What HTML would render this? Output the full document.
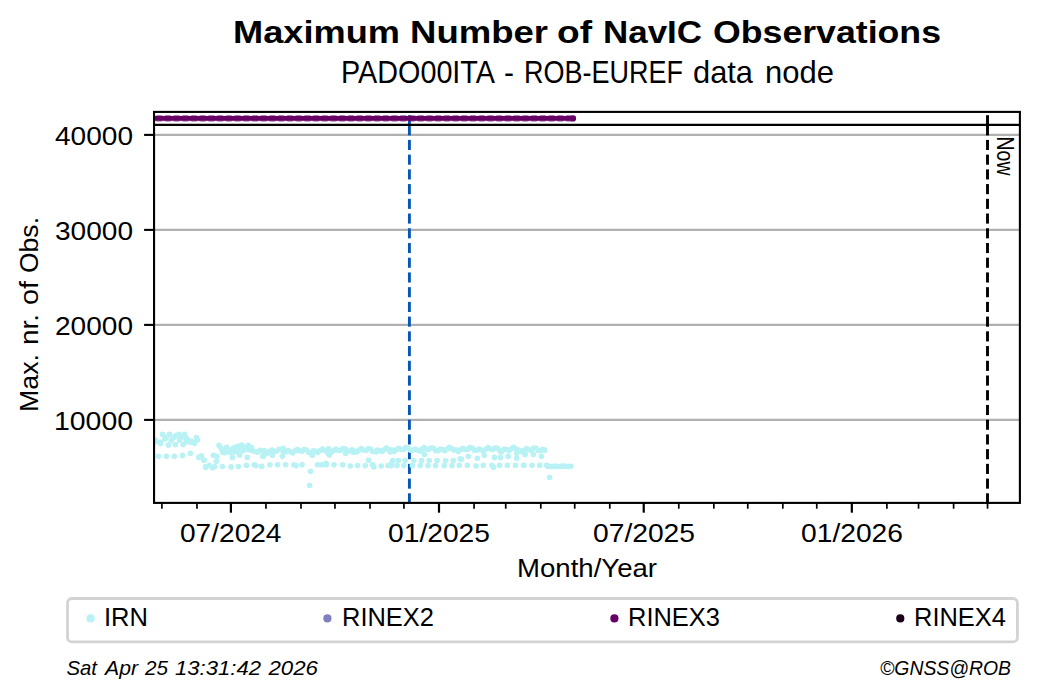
<!DOCTYPE html>
<html><head><meta charset="utf-8"><style>
html,body{margin:0;padding:0;background:#fff;width:1040px;height:699px;overflow:hidden}
svg{display:block;font-family:"Liberation Sans",sans-serif}
</style></head><body>
<svg width="1040" height="699" viewBox="0 0 1040 699">
<rect x="0" y="0" width="1040" height="699" fill="#fff"/>

<line x1="154.05" y1="419.90" x2="1019.9" y2="419.90" stroke="#b0b0b0" stroke-width="2.2"/>
<line x1="154.05" y1="324.90" x2="1019.9" y2="324.90" stroke="#b0b0b0" stroke-width="2.2"/>
<line x1="154.05" y1="229.90" x2="1019.9" y2="229.90" stroke="#b0b0b0" stroke-width="2.2"/>
<line x1="154.05" y1="134.90" x2="1019.9" y2="134.90" stroke="#b0b0b0" stroke-width="2.2"/>
<line x1="409.4" y1="115.2" x2="409.4" y2="135.4" stroke="#0657b3" stroke-width="2.9"/><line x1="409.4" y1="139.90" x2="409.4" y2="150.00" stroke="#0657b3" stroke-width="2.9"/><line x1="409.4" y1="154.62" x2="409.4" y2="164.72" stroke="#0657b3" stroke-width="2.9"/><line x1="409.4" y1="169.35" x2="409.4" y2="179.45" stroke="#0657b3" stroke-width="2.9"/><line x1="409.4" y1="184.07" x2="409.4" y2="194.17" stroke="#0657b3" stroke-width="2.9"/><line x1="409.4" y1="198.80" x2="409.4" y2="208.90" stroke="#0657b3" stroke-width="2.9"/><line x1="409.4" y1="213.52" x2="409.4" y2="223.62" stroke="#0657b3" stroke-width="2.9"/><line x1="409.4" y1="228.25" x2="409.4" y2="238.35" stroke="#0657b3" stroke-width="2.9"/><line x1="409.4" y1="242.97" x2="409.4" y2="253.07" stroke="#0657b3" stroke-width="2.9"/><line x1="409.4" y1="257.70" x2="409.4" y2="267.80" stroke="#0657b3" stroke-width="2.9"/><line x1="409.4" y1="272.43" x2="409.4" y2="282.53" stroke="#0657b3" stroke-width="2.9"/><line x1="409.4" y1="287.15" x2="409.4" y2="297.25" stroke="#0657b3" stroke-width="2.9"/><line x1="409.4" y1="301.88" x2="409.4" y2="311.98" stroke="#0657b3" stroke-width="2.9"/><line x1="409.4" y1="316.60" x2="409.4" y2="326.70" stroke="#0657b3" stroke-width="2.9"/><line x1="409.4" y1="331.33" x2="409.4" y2="341.43" stroke="#0657b3" stroke-width="2.9"/><line x1="409.4" y1="346.05" x2="409.4" y2="356.15" stroke="#0657b3" stroke-width="2.9"/><line x1="409.4" y1="360.78" x2="409.4" y2="370.88" stroke="#0657b3" stroke-width="2.9"/><line x1="409.4" y1="375.50" x2="409.4" y2="385.60" stroke="#0657b3" stroke-width="2.9"/><line x1="409.4" y1="390.23" x2="409.4" y2="400.33" stroke="#0657b3" stroke-width="2.9"/><line x1="409.4" y1="404.95" x2="409.4" y2="415.05" stroke="#0657b3" stroke-width="2.9"/><line x1="409.4" y1="419.68" x2="409.4" y2="429.78" stroke="#0657b3" stroke-width="2.9"/><line x1="409.4" y1="434.40" x2="409.4" y2="444.50" stroke="#0657b3" stroke-width="2.9"/><line x1="409.4" y1="449.13" x2="409.4" y2="459.23" stroke="#0657b3" stroke-width="2.9"/><line x1="409.4" y1="463.85" x2="409.4" y2="473.95" stroke="#0657b3" stroke-width="2.9"/><line x1="409.4" y1="478.58" x2="409.4" y2="488.68" stroke="#0657b3" stroke-width="2.9"/><line x1="409.4" y1="493.30" x2="409.4" y2="502.90" stroke="#0657b3" stroke-width="2.9"/>
<line x1="987.5" y1="115.2" x2="987.5" y2="135.4" stroke="#000000" stroke-width="2.9"/><line x1="987.5" y1="139.90" x2="987.5" y2="150.00" stroke="#000000" stroke-width="2.9"/><line x1="987.5" y1="154.62" x2="987.5" y2="164.72" stroke="#000000" stroke-width="2.9"/><line x1="987.5" y1="169.35" x2="987.5" y2="179.45" stroke="#000000" stroke-width="2.9"/><line x1="987.5" y1="184.07" x2="987.5" y2="194.17" stroke="#000000" stroke-width="2.9"/><line x1="987.5" y1="198.80" x2="987.5" y2="208.90" stroke="#000000" stroke-width="2.9"/><line x1="987.5" y1="213.52" x2="987.5" y2="223.62" stroke="#000000" stroke-width="2.9"/><line x1="987.5" y1="228.25" x2="987.5" y2="238.35" stroke="#000000" stroke-width="2.9"/><line x1="987.5" y1="242.97" x2="987.5" y2="253.07" stroke="#000000" stroke-width="2.9"/><line x1="987.5" y1="257.70" x2="987.5" y2="267.80" stroke="#000000" stroke-width="2.9"/><line x1="987.5" y1="272.43" x2="987.5" y2="282.53" stroke="#000000" stroke-width="2.9"/><line x1="987.5" y1="287.15" x2="987.5" y2="297.25" stroke="#000000" stroke-width="2.9"/><line x1="987.5" y1="301.88" x2="987.5" y2="311.98" stroke="#000000" stroke-width="2.9"/><line x1="987.5" y1="316.60" x2="987.5" y2="326.70" stroke="#000000" stroke-width="2.9"/><line x1="987.5" y1="331.33" x2="987.5" y2="341.43" stroke="#000000" stroke-width="2.9"/><line x1="987.5" y1="346.05" x2="987.5" y2="356.15" stroke="#000000" stroke-width="2.9"/><line x1="987.5" y1="360.78" x2="987.5" y2="370.88" stroke="#000000" stroke-width="2.9"/><line x1="987.5" y1="375.50" x2="987.5" y2="385.60" stroke="#000000" stroke-width="2.9"/><line x1="987.5" y1="390.23" x2="987.5" y2="400.33" stroke="#000000" stroke-width="2.9"/><line x1="987.5" y1="404.95" x2="987.5" y2="415.05" stroke="#000000" stroke-width="2.9"/><line x1="987.5" y1="419.68" x2="987.5" y2="429.78" stroke="#000000" stroke-width="2.9"/><line x1="987.5" y1="434.40" x2="987.5" y2="444.50" stroke="#000000" stroke-width="2.9"/><line x1="987.5" y1="449.13" x2="987.5" y2="459.23" stroke="#000000" stroke-width="2.9"/><line x1="987.5" y1="463.85" x2="987.5" y2="473.95" stroke="#000000" stroke-width="2.9"/><line x1="987.5" y1="478.58" x2="987.5" y2="488.68" stroke="#000000" stroke-width="2.9"/><line x1="987.5" y1="493.30" x2="987.5" y2="502.90" stroke="#000000" stroke-width="2.9"/>
<clipPath id="ax"><rect x="155.05" y="112.9" width="864" height="389"/></clipPath><g clip-path="url(#ax)">
<circle cx="158.5" cy="456.3" r="2.8" fill="#b8f2f4"/>
<circle cx="166.4" cy="456.3" r="2.8" fill="#b8f2f4"/>
<circle cx="174.3" cy="456.3" r="2.8" fill="#b8f2f4"/>
<circle cx="182.5" cy="455.4" r="2.8" fill="#b8f2f4"/>
<circle cx="190.4" cy="453.3" r="2.8" fill="#b8f2f4"/>
<circle cx="168.4" cy="445.1" r="2.8" fill="#b8f2f4"/>
<circle cx="175.4" cy="444.6" r="2.8" fill="#b8f2f4"/>
<circle cx="183.2" cy="444.6" r="2.8" fill="#b8f2f4"/>
<circle cx="160.5" cy="443.6" r="2.8" fill="#b8f2f4"/>
<circle cx="156.0" cy="441.5" r="2.8" fill="#b8f2f4"/>
<circle cx="162.6" cy="434.4" r="2.8" fill="#b8f2f4"/>
<circle cx="169.6" cy="434.4" r="2.8" fill="#b8f2f4"/>
<circle cx="176.0" cy="435.5" r="2.8" fill="#b8f2f4"/>
<circle cx="179.0" cy="434.4" r="2.8" fill="#b8f2f4"/>
<circle cx="184.4" cy="434.4" r="2.8" fill="#b8f2f4"/>
<circle cx="166.0" cy="437.5" r="2.8" fill="#b8f2f4"/>
<circle cx="174.0" cy="437.5" r="2.8" fill="#b8f2f4"/>
<circle cx="181.0" cy="437.5" r="2.8" fill="#b8f2f4"/>
<circle cx="186.0" cy="438.0" r="2.8" fill="#b8f2f4"/>
<circle cx="196.4" cy="437.6" r="2.8" fill="#b8f2f4"/>
<circle cx="155.5" cy="440.2" r="2.8" fill="#b8f2f4"/>
<circle cx="160.6" cy="442.0" r="2.8" fill="#b8f2f4"/>
<circle cx="171.2" cy="440.2" r="2.8" fill="#b8f2f4"/>
<circle cx="179.6" cy="440.2" r="2.8" fill="#b8f2f4"/>
<circle cx="188.6" cy="440.2" r="2.8" fill="#b8f2f4"/>
<circle cx="192.0" cy="441.5" r="2.8" fill="#b8f2f4"/>
<circle cx="197.6" cy="440.0" r="2.8" fill="#b8f2f4"/>
<circle cx="165.0" cy="439.0" r="2.8" fill="#b8f2f4"/>
<circle cx="186.0" cy="442.0" r="2.8" fill="#b8f2f4"/>
<circle cx="191.0" cy="442.5" r="2.8" fill="#b8f2f4"/>
<circle cx="194.4" cy="443.3" r="2.8" fill="#b8f2f4"/>
<circle cx="199.6" cy="457.0" r="2.8" fill="#b8f2f4"/>
<circle cx="204.0" cy="460.2" r="2.8" fill="#b8f2f4"/>
<circle cx="205.7" cy="467.3" r="2.8" fill="#b8f2f4"/>
<circle cx="198.9" cy="457.4" r="2.8" fill="#b8f2f4"/>
<circle cx="201.4" cy="455.7" r="2.8" fill="#b8f2f4"/>
<circle cx="204.0" cy="460.0" r="2.8" fill="#b8f2f4"/>
<circle cx="205.7" cy="466.9" r="2.8" fill="#b8f2f4"/>
<circle cx="209.2" cy="465.2" r="2.8" fill="#b8f2f4"/>
<circle cx="212.6" cy="467.7" r="2.8" fill="#b8f2f4"/>
<circle cx="214.7" cy="466.5" r="2.8" fill="#b8f2f4"/>
<circle cx="213.4" cy="455.3" r="2.8" fill="#b8f2f4"/>
<circle cx="216.9" cy="456.2" r="2.8" fill="#b8f2f4"/>
<circle cx="216.4" cy="461.3" r="2.8" fill="#b8f2f4"/>
<circle cx="219.0" cy="445.4" r="2.8" fill="#b8f2f4"/>
<circle cx="222.4" cy="451.9" r="2.8" fill="#b8f2f4"/>
<circle cx="224.6" cy="452.7" r="2.8" fill="#b8f2f4"/>
<circle cx="226.7" cy="447.2" r="2.8" fill="#b8f2f4"/>
<circle cx="229.7" cy="452.3" r="2.8" fill="#b8f2f4"/>
<circle cx="232.3" cy="457.4" r="2.8" fill="#b8f2f4"/>
<circle cx="234.9" cy="447.2" r="2.8" fill="#b8f2f4"/>
<circle cx="238.3" cy="446.3" r="2.8" fill="#b8f2f4"/>
<circle cx="239.6" cy="454.9" r="2.8" fill="#b8f2f4"/>
<circle cx="241.7" cy="445.0" r="2.8" fill="#b8f2f4"/>
<circle cx="243.0" cy="450.6" r="2.8" fill="#b8f2f4"/>
<circle cx="247.3" cy="457.4" r="2.8" fill="#b8f2f4"/>
<circle cx="248.2" cy="445.4" r="2.8" fill="#b8f2f4"/>
<circle cx="251.6" cy="447.6" r="2.8" fill="#b8f2f4"/>
<circle cx="256.7" cy="451.9" r="2.8" fill="#b8f2f4"/>
<circle cx="260.2" cy="450.2" r="2.8" fill="#b8f2f4"/>
<circle cx="262.8" cy="456.2" r="2.8" fill="#b8f2f4"/>
<circle cx="264.0" cy="450.6" r="2.8" fill="#b8f2f4"/>
<circle cx="222.4" cy="466.5" r="2.8" fill="#b8f2f4"/>
<circle cx="231.0" cy="466.9" r="2.8" fill="#b8f2f4"/>
<circle cx="238.3" cy="466.5" r="2.8" fill="#b8f2f4"/>
<circle cx="246.5" cy="465.2" r="2.8" fill="#b8f2f4"/>
<circle cx="254.2" cy="464.7" r="2.8" fill="#b8f2f4"/>
<circle cx="255.9" cy="465.6" r="2.8" fill="#b8f2f4"/>
<circle cx="261.5" cy="466.5" r="2.8" fill="#b8f2f4"/>
<circle cx="221.0" cy="448.0" r="2.8" fill="#b8f2f4"/>
<circle cx="225.0" cy="449.5" r="2.8" fill="#b8f2f4"/>
<circle cx="230.0" cy="450.0" r="2.8" fill="#b8f2f4"/>
<circle cx="233.0" cy="448.5" r="2.8" fill="#b8f2f4"/>
<circle cx="236.0" cy="450.0" r="2.8" fill="#b8f2f4"/>
<circle cx="240.0" cy="449.0" r="2.8" fill="#b8f2f4"/>
<circle cx="244.0" cy="447.0" r="2.8" fill="#b8f2f4"/>
<circle cx="246.0" cy="449.5" r="2.8" fill="#b8f2f4"/>
<circle cx="250.0" cy="450.0" r="2.8" fill="#b8f2f4"/>
<circle cx="253.0" cy="451.0" r="2.8" fill="#b8f2f4"/>
<circle cx="258.0" cy="452.0" r="2.8" fill="#b8f2f4"/>
<circle cx="262.0" cy="451.0" r="2.8" fill="#b8f2f4"/>
<circle cx="228.0" cy="451.0" r="2.8" fill="#b8f2f4"/>
<circle cx="234.0" cy="452.0" r="2.8" fill="#b8f2f4"/>
<circle cx="237.0" cy="452.0" r="2.8" fill="#b8f2f4"/>
<circle cx="263.4" cy="456.2" r="2.8" fill="#b8f2f4"/>
<circle cx="272.4" cy="455.3" r="2.8" fill="#b8f2f4"/>
<circle cx="282.3" cy="456.2" r="2.8" fill="#b8f2f4"/>
<circle cx="312.3" cy="455.3" r="2.8" fill="#b8f2f4"/>
<circle cx="283.2" cy="448.4" r="2.8" fill="#b8f2f4"/>
<circle cx="328.6" cy="448.9" r="2.8" fill="#b8f2f4"/>
<circle cx="328.6" cy="454.0" r="2.8" fill="#b8f2f4"/>
<circle cx="261.7" cy="466.2" r="2.8" fill="#b8f2f4"/>
<circle cx="269.9" cy="464.7" r="2.8" fill="#b8f2f4"/>
<circle cx="277.6" cy="464.7" r="2.8" fill="#b8f2f4"/>
<circle cx="285.7" cy="464.7" r="2.8" fill="#b8f2f4"/>
<circle cx="293.9" cy="464.7" r="2.8" fill="#b8f2f4"/>
<circle cx="296.0" cy="465.6" r="2.8" fill="#b8f2f4"/>
<circle cx="302.0" cy="464.7" r="2.8" fill="#b8f2f4"/>
<circle cx="317.5" cy="464.7" r="2.8" fill="#b8f2f4"/>
<circle cx="321.7" cy="464.7" r="2.8" fill="#b8f2f4"/>
<circle cx="326.0" cy="463.4" r="2.8" fill="#b8f2f4"/>
<circle cx="310.4" cy="471.3" r="2.8" fill="#b8f2f4"/>
<circle cx="309.6" cy="485.3" r="2.8" fill="#b8f2f4"/>
<circle cx="329.3" cy="455.0" r="2.8" fill="#b8f2f4"/>
<circle cx="345.6" cy="453.5" r="2.8" fill="#b8f2f4"/>
<circle cx="353.3" cy="452.3" r="2.8" fill="#b8f2f4"/>
<circle cx="376.5" cy="452.0" r="2.8" fill="#b8f2f4"/>
<circle cx="390.2" cy="452.0" r="2.8" fill="#b8f2f4"/>
<circle cx="326.3" cy="464.7" r="2.8" fill="#b8f2f4"/>
<circle cx="334.0" cy="464.7" r="2.8" fill="#b8f2f4"/>
<circle cx="342.6" cy="464.7" r="2.8" fill="#b8f2f4"/>
<circle cx="350.3" cy="466.0" r="2.8" fill="#b8f2f4"/>
<circle cx="357.6" cy="465.6" r="2.8" fill="#b8f2f4"/>
<circle cx="365.3" cy="465.6" r="2.8" fill="#b8f2f4"/>
<circle cx="368.7" cy="460.2" r="2.8" fill="#b8f2f4"/>
<circle cx="372.6" cy="464.7" r="2.8" fill="#b8f2f4"/>
<circle cx="373.9" cy="467.0" r="2.8" fill="#b8f2f4"/>
<circle cx="381.2" cy="466.0" r="2.8" fill="#b8f2f4"/>
<circle cx="388.0" cy="465.6" r="2.8" fill="#b8f2f4"/>
<circle cx="391.9" cy="462.6" r="2.8" fill="#b8f2f4"/>
<circle cx="424.3" cy="454.4" r="2.8" fill="#b8f2f4"/>
<circle cx="468.3" cy="456.2" r="2.8" fill="#b8f2f4"/>
<circle cx="484.2" cy="455.3" r="2.8" fill="#b8f2f4"/>
<circle cx="501.3" cy="452.0" r="2.8" fill="#b8f2f4"/>
<circle cx="516.7" cy="458.3" r="2.8" fill="#b8f2f4"/>
<circle cx="516.7" cy="453.5" r="2.8" fill="#b8f2f4"/>
<circle cx="461.4" cy="459.3" r="2.8" fill="#b8f2f4"/>
<circle cx="477.3" cy="458.3" r="2.8" fill="#b8f2f4"/>
<circle cx="494.5" cy="457.4" r="2.8" fill="#b8f2f4"/>
<circle cx="500.5" cy="457.4" r="2.8" fill="#b8f2f4"/>
<circle cx="508.2" cy="456.2" r="2.8" fill="#b8f2f4"/>
<circle cx="459.3" cy="465.2" r="2.8" fill="#b8f2f4"/>
<circle cx="467.4" cy="465.2" r="2.8" fill="#b8f2f4"/>
<circle cx="476.0" cy="466.0" r="2.8" fill="#b8f2f4"/>
<circle cx="483.3" cy="465.2" r="2.8" fill="#b8f2f4"/>
<circle cx="491.9" cy="465.2" r="2.8" fill="#b8f2f4"/>
<circle cx="493.6" cy="467.2" r="2.8" fill="#b8f2f4"/>
<circle cx="499.6" cy="465.2" r="2.8" fill="#b8f2f4"/>
<circle cx="507.3" cy="465.2" r="2.8" fill="#b8f2f4"/>
<circle cx="515.5" cy="465.2" r="2.8" fill="#b8f2f4"/>
<circle cx="523.6" cy="465.2" r="2.8" fill="#b8f2f4"/>
<circle cx="525.1" cy="454.4" r="2.8" fill="#b8f2f4"/>
<circle cx="533.3" cy="454.4" r="2.8" fill="#b8f2f4"/>
<circle cx="541.4" cy="456.2" r="2.8" fill="#b8f2f4"/>
<circle cx="544.9" cy="450.2" r="2.8" fill="#b8f2f4"/>
<circle cx="523.9" cy="465.2" r="2.8" fill="#b8f2f4"/>
<circle cx="532.0" cy="465.2" r="2.8" fill="#b8f2f4"/>
<circle cx="539.7" cy="465.2" r="2.8" fill="#b8f2f4"/>
<circle cx="546.6" cy="465.2" r="2.8" fill="#b8f2f4"/>
<circle cx="549.6" cy="477.2" r="2.8" fill="#b8f2f4"/>
<circle cx="392.8" cy="460.6" r="2.8" fill="#b8f2f4"/>
<circle cx="391.4" cy="465.6" r="2.8" fill="#b8f2f4"/>
<circle cx="398.5" cy="460.6" r="2.8" fill="#b8f2f4"/>
<circle cx="397.1" cy="465.6" r="2.8" fill="#b8f2f4"/>
<circle cx="405.2" cy="460.6" r="2.8" fill="#b8f2f4"/>
<circle cx="403.8" cy="465.6" r="2.8" fill="#b8f2f4"/>
<circle cx="413.8" cy="460.6" r="2.8" fill="#b8f2f4"/>
<circle cx="412.4" cy="465.6" r="2.8" fill="#b8f2f4"/>
<circle cx="421.6" cy="460.6" r="2.8" fill="#b8f2f4"/>
<circle cx="420.2" cy="465.6" r="2.8" fill="#b8f2f4"/>
<circle cx="429.3" cy="460.6" r="2.8" fill="#b8f2f4"/>
<circle cx="427.9" cy="465.6" r="2.8" fill="#b8f2f4"/>
<circle cx="437.0" cy="460.6" r="2.8" fill="#b8f2f4"/>
<circle cx="435.6" cy="465.6" r="2.8" fill="#b8f2f4"/>
<circle cx="445.6" cy="460.6" r="2.8" fill="#b8f2f4"/>
<circle cx="444.2" cy="465.6" r="2.8" fill="#b8f2f4"/>
<circle cx="453.3" cy="460.6" r="2.8" fill="#b8f2f4"/>
<circle cx="451.9" cy="465.6" r="2.8" fill="#b8f2f4"/>
<circle cx="460.2" cy="458.8" r="2.8" fill="#b8f2f4"/>
<circle cx="265.0" cy="451.8" r="2.75" fill="#b8f2f4"/>
<circle cx="267.3" cy="453.2" r="2.75" fill="#b8f2f4"/>
<circle cx="269.6" cy="451.3" r="2.75" fill="#b8f2f4"/>
<circle cx="271.9" cy="449.9" r="2.75" fill="#b8f2f4"/>
<circle cx="274.2" cy="451.2" r="2.75" fill="#b8f2f4"/>
<circle cx="276.5" cy="451.2" r="2.75" fill="#b8f2f4"/>
<circle cx="278.8" cy="449.2" r="2.75" fill="#b8f2f4"/>
<circle cx="281.1" cy="449.6" r="2.75" fill="#b8f2f4"/>
<circle cx="283.4" cy="452.0" r="2.75" fill="#b8f2f4"/>
<circle cx="285.7" cy="451.9" r="2.75" fill="#b8f2f4"/>
<circle cx="288.0" cy="450.6" r="2.75" fill="#b8f2f4"/>
<circle cx="290.3" cy="451.7" r="2.75" fill="#b8f2f4"/>
<circle cx="292.6" cy="452.9" r="2.75" fill="#b8f2f4"/>
<circle cx="294.9" cy="451.0" r="2.75" fill="#b8f2f4"/>
<circle cx="297.2" cy="449.3" r="2.75" fill="#b8f2f4"/>
<circle cx="299.5" cy="450.7" r="2.75" fill="#b8f2f4"/>
<circle cx="301.8" cy="451.3" r="2.75" fill="#b8f2f4"/>
<circle cx="304.1" cy="449.6" r="2.75" fill="#b8f2f4"/>
<circle cx="306.4" cy="449.9" r="2.75" fill="#b8f2f4"/>
<circle cx="308.7" cy="452.4" r="2.75" fill="#b8f2f4"/>
<circle cx="311.0" cy="452.5" r="2.75" fill="#b8f2f4"/>
<circle cx="313.3" cy="450.7" r="2.75" fill="#b8f2f4"/>
<circle cx="315.6" cy="451.2" r="2.75" fill="#b8f2f4"/>
<circle cx="317.9" cy="452.4" r="2.75" fill="#b8f2f4"/>
<circle cx="320.2" cy="450.6" r="2.75" fill="#b8f2f4"/>
<circle cx="322.5" cy="448.9" r="2.75" fill="#b8f2f4"/>
<circle cx="324.8" cy="450.4" r="2.75" fill="#b8f2f4"/>
<circle cx="327.1" cy="451.6" r="2.75" fill="#b8f2f4"/>
<circle cx="329.0" cy="451.0" r="2.75" fill="#b8f2f4"/>
<circle cx="331.3" cy="452.4" r="2.75" fill="#b8f2f4"/>
<circle cx="333.6" cy="450.5" r="2.75" fill="#b8f2f4"/>
<circle cx="335.9" cy="449.1" r="2.75" fill="#b8f2f4"/>
<circle cx="338.2" cy="450.4" r="2.75" fill="#b8f2f4"/>
<circle cx="340.5" cy="450.4" r="2.75" fill="#b8f2f4"/>
<circle cx="342.8" cy="448.4" r="2.75" fill="#b8f2f4"/>
<circle cx="345.1" cy="448.8" r="2.75" fill="#b8f2f4"/>
<circle cx="347.4" cy="451.2" r="2.75" fill="#b8f2f4"/>
<circle cx="349.7" cy="451.1" r="2.75" fill="#b8f2f4"/>
<circle cx="352.0" cy="449.8" r="2.75" fill="#b8f2f4"/>
<circle cx="354.3" cy="450.9" r="2.75" fill="#b8f2f4"/>
<circle cx="356.6" cy="452.1" r="2.75" fill="#b8f2f4"/>
<circle cx="358.9" cy="450.2" r="2.75" fill="#b8f2f4"/>
<circle cx="361.2" cy="448.5" r="2.75" fill="#b8f2f4"/>
<circle cx="363.5" cy="449.9" r="2.75" fill="#b8f2f4"/>
<circle cx="365.8" cy="450.5" r="2.75" fill="#b8f2f4"/>
<circle cx="368.1" cy="448.8" r="2.75" fill="#b8f2f4"/>
<circle cx="370.4" cy="449.1" r="2.75" fill="#b8f2f4"/>
<circle cx="372.7" cy="451.6" r="2.75" fill="#b8f2f4"/>
<circle cx="375.0" cy="451.7" r="2.75" fill="#b8f2f4"/>
<circle cx="377.3" cy="449.9" r="2.75" fill="#b8f2f4"/>
<circle cx="379.6" cy="450.4" r="2.75" fill="#b8f2f4"/>
<circle cx="381.9" cy="451.6" r="2.75" fill="#b8f2f4"/>
<circle cx="384.2" cy="449.8" r="2.75" fill="#b8f2f4"/>
<circle cx="386.5" cy="448.1" r="2.75" fill="#b8f2f4"/>
<circle cx="388.8" cy="449.6" r="2.75" fill="#b8f2f4"/>
<circle cx="391.1" cy="450.8" r="2.75" fill="#b8f2f4"/>
<circle cx="392.0" cy="450.1" r="2.75" fill="#b8f2f4"/>
<circle cx="394.3" cy="451.5" r="2.75" fill="#b8f2f4"/>
<circle cx="396.6" cy="449.6" r="2.75" fill="#b8f2f4"/>
<circle cx="398.9" cy="448.2" r="2.75" fill="#b8f2f4"/>
<circle cx="401.2" cy="449.5" r="2.75" fill="#b8f2f4"/>
<circle cx="403.5" cy="449.5" r="2.75" fill="#b8f2f4"/>
<circle cx="405.8" cy="447.5" r="2.75" fill="#b8f2f4"/>
<circle cx="408.1" cy="447.9" r="2.75" fill="#b8f2f4"/>
<circle cx="410.4" cy="450.3" r="2.75" fill="#b8f2f4"/>
<circle cx="412.7" cy="450.2" r="2.75" fill="#b8f2f4"/>
<circle cx="415.0" cy="448.9" r="2.75" fill="#b8f2f4"/>
<circle cx="417.3" cy="450.0" r="2.75" fill="#b8f2f4"/>
<circle cx="419.6" cy="451.2" r="2.75" fill="#b8f2f4"/>
<circle cx="421.9" cy="449.3" r="2.75" fill="#b8f2f4"/>
<circle cx="424.2" cy="447.6" r="2.75" fill="#b8f2f4"/>
<circle cx="426.5" cy="449.0" r="2.75" fill="#b8f2f4"/>
<circle cx="428.8" cy="449.6" r="2.75" fill="#b8f2f4"/>
<circle cx="431.1" cy="447.9" r="2.75" fill="#b8f2f4"/>
<circle cx="433.4" cy="448.2" r="2.75" fill="#b8f2f4"/>
<circle cx="435.7" cy="450.7" r="2.75" fill="#b8f2f4"/>
<circle cx="438.0" cy="450.8" r="2.75" fill="#b8f2f4"/>
<circle cx="440.3" cy="449.0" r="2.75" fill="#b8f2f4"/>
<circle cx="442.6" cy="449.5" r="2.75" fill="#b8f2f4"/>
<circle cx="444.9" cy="450.7" r="2.75" fill="#b8f2f4"/>
<circle cx="447.2" cy="448.9" r="2.75" fill="#b8f2f4"/>
<circle cx="449.5" cy="447.2" r="2.75" fill="#b8f2f4"/>
<circle cx="451.8" cy="448.7" r="2.75" fill="#b8f2f4"/>
<circle cx="454.1" cy="449.9" r="2.75" fill="#b8f2f4"/>
<circle cx="456.0" cy="450.1" r="2.75" fill="#b8f2f4"/>
<circle cx="458.3" cy="451.5" r="2.75" fill="#b8f2f4"/>
<circle cx="460.6" cy="449.6" r="2.75" fill="#b8f2f4"/>
<circle cx="462.9" cy="448.2" r="2.75" fill="#b8f2f4"/>
<circle cx="465.2" cy="449.5" r="2.75" fill="#b8f2f4"/>
<circle cx="467.5" cy="449.5" r="2.75" fill="#b8f2f4"/>
<circle cx="469.8" cy="447.5" r="2.75" fill="#b8f2f4"/>
<circle cx="472.1" cy="447.9" r="2.75" fill="#b8f2f4"/>
<circle cx="474.4" cy="450.3" r="2.75" fill="#b8f2f4"/>
<circle cx="476.7" cy="450.2" r="2.75" fill="#b8f2f4"/>
<circle cx="479.0" cy="448.9" r="2.75" fill="#b8f2f4"/>
<circle cx="481.3" cy="450.0" r="2.75" fill="#b8f2f4"/>
<circle cx="483.6" cy="451.2" r="2.75" fill="#b8f2f4"/>
<circle cx="485.9" cy="449.3" r="2.75" fill="#b8f2f4"/>
<circle cx="488.2" cy="447.6" r="2.75" fill="#b8f2f4"/>
<circle cx="490.5" cy="449.0" r="2.75" fill="#b8f2f4"/>
<circle cx="492.8" cy="449.6" r="2.75" fill="#b8f2f4"/>
<circle cx="495.1" cy="447.9" r="2.75" fill="#b8f2f4"/>
<circle cx="497.4" cy="448.2" r="2.75" fill="#b8f2f4"/>
<circle cx="499.7" cy="450.7" r="2.75" fill="#b8f2f4"/>
<circle cx="502.0" cy="450.8" r="2.75" fill="#b8f2f4"/>
<circle cx="504.3" cy="449.0" r="2.75" fill="#b8f2f4"/>
<circle cx="506.6" cy="449.5" r="2.75" fill="#b8f2f4"/>
<circle cx="508.9" cy="450.7" r="2.75" fill="#b8f2f4"/>
<circle cx="511.2" cy="448.9" r="2.75" fill="#b8f2f4"/>
<circle cx="513.5" cy="447.2" r="2.75" fill="#b8f2f4"/>
<circle cx="515.8" cy="448.7" r="2.75" fill="#b8f2f4"/>
<circle cx="518.1" cy="449.9" r="2.75" fill="#b8f2f4"/>
<circle cx="520.0" cy="450.5" r="2.75" fill="#b8f2f4"/>
<circle cx="522.3" cy="451.9" r="2.75" fill="#b8f2f4"/>
<circle cx="524.6" cy="450.0" r="2.75" fill="#b8f2f4"/>
<circle cx="526.9" cy="448.6" r="2.75" fill="#b8f2f4"/>
<circle cx="529.2" cy="449.9" r="2.75" fill="#b8f2f4"/>
<circle cx="531.5" cy="449.9" r="2.75" fill="#b8f2f4"/>
<circle cx="533.8" cy="447.9" r="2.75" fill="#b8f2f4"/>
<circle cx="536.1" cy="448.3" r="2.75" fill="#b8f2f4"/>
<circle cx="538.4" cy="450.7" r="2.75" fill="#b8f2f4"/>
<circle cx="540.7" cy="450.6" r="2.75" fill="#b8f2f4"/>
<circle cx="543.0" cy="449.3" r="2.75" fill="#b8f2f4"/>
<circle cx="548.0" cy="466.5" r="2.75" fill="#b8f2f4"/>
<circle cx="550.3" cy="466.8" r="2.75" fill="#b8f2f4"/>
<circle cx="552.6" cy="466.4" r="2.75" fill="#b8f2f4"/>
<circle cx="554.9" cy="466.0" r="2.75" fill="#b8f2f4"/>
<circle cx="557.2" cy="466.4" r="2.75" fill="#b8f2f4"/>
<circle cx="559.5" cy="466.4" r="2.75" fill="#b8f2f4"/>
<circle cx="561.8" cy="465.9" r="2.75" fill="#b8f2f4"/>
<circle cx="564.1" cy="465.9" r="2.75" fill="#b8f2f4"/>
<circle cx="566.4" cy="466.5" r="2.75" fill="#b8f2f4"/>
<circle cx="568.7" cy="466.5" r="2.75" fill="#b8f2f4"/>
<circle cx="571.0" cy="466.2" r="2.75" fill="#b8f2f4"/>
</g>
<line x1="154.05" y1="118.4" x2="573.6" y2="118.4" stroke="#660066" stroke-width="4.8" stroke-linecap="round"/>
<rect x="146.30" y="115.0" width="8.2" height="6.8" rx="2.6" ry="2.2" fill="#660066" fill-opacity="0.5"/>
<rect x="155.02" y="115.0" width="8.2" height="6.8" rx="2.6" ry="2.2" fill="#660066" fill-opacity="0.5"/>
<rect x="163.74" y="115.0" width="8.2" height="6.8" rx="2.6" ry="2.2" fill="#660066" fill-opacity="0.5"/>
<rect x="172.46" y="115.0" width="8.2" height="6.8" rx="2.6" ry="2.2" fill="#660066" fill-opacity="0.5"/>
<rect x="181.18" y="115.0" width="8.2" height="6.8" rx="2.6" ry="2.2" fill="#660066" fill-opacity="0.5"/>
<rect x="189.90" y="115.0" width="8.2" height="6.8" rx="2.6" ry="2.2" fill="#660066" fill-opacity="0.5"/>
<rect x="198.62" y="115.0" width="8.2" height="6.8" rx="2.6" ry="2.2" fill="#660066" fill-opacity="0.5"/>
<rect x="207.34" y="115.0" width="8.2" height="6.8" rx="2.6" ry="2.2" fill="#660066" fill-opacity="0.5"/>
<rect x="216.06" y="115.0" width="8.2" height="6.8" rx="2.6" ry="2.2" fill="#660066" fill-opacity="0.5"/>
<rect x="224.78" y="115.0" width="8.2" height="6.8" rx="2.6" ry="2.2" fill="#660066" fill-opacity="0.5"/>
<rect x="233.50" y="115.0" width="8.2" height="6.8" rx="2.6" ry="2.2" fill="#660066" fill-opacity="0.5"/>
<rect x="242.22" y="115.0" width="8.2" height="6.8" rx="2.6" ry="2.2" fill="#660066" fill-opacity="0.5"/>
<rect x="250.94" y="115.0" width="8.2" height="6.8" rx="2.6" ry="2.2" fill="#660066" fill-opacity="0.5"/>
<rect x="259.66" y="115.0" width="8.2" height="6.8" rx="2.6" ry="2.2" fill="#660066" fill-opacity="0.5"/>
<rect x="268.38" y="115.0" width="8.2" height="6.8" rx="2.6" ry="2.2" fill="#660066" fill-opacity="0.5"/>
<rect x="277.10" y="115.0" width="8.2" height="6.8" rx="2.6" ry="2.2" fill="#660066" fill-opacity="0.5"/>
<rect x="285.82" y="115.0" width="8.2" height="6.8" rx="2.6" ry="2.2" fill="#660066" fill-opacity="0.5"/>
<rect x="294.54" y="115.0" width="8.2" height="6.8" rx="2.6" ry="2.2" fill="#660066" fill-opacity="0.5"/>
<rect x="303.26" y="115.0" width="8.2" height="6.8" rx="2.6" ry="2.2" fill="#660066" fill-opacity="0.5"/>
<rect x="311.98" y="115.0" width="8.2" height="6.8" rx="2.6" ry="2.2" fill="#660066" fill-opacity="0.5"/>
<rect x="320.70" y="115.0" width="8.2" height="6.8" rx="2.6" ry="2.2" fill="#660066" fill-opacity="0.5"/>
<rect x="329.42" y="115.0" width="8.2" height="6.8" rx="2.6" ry="2.2" fill="#660066" fill-opacity="0.5"/>
<rect x="338.14" y="115.0" width="8.2" height="6.8" rx="2.6" ry="2.2" fill="#660066" fill-opacity="0.5"/>
<rect x="346.86" y="115.0" width="8.2" height="6.8" rx="2.6" ry="2.2" fill="#660066" fill-opacity="0.5"/>
<rect x="355.58" y="115.0" width="8.2" height="6.8" rx="2.6" ry="2.2" fill="#660066" fill-opacity="0.5"/>
<rect x="364.30" y="115.0" width="8.2" height="6.8" rx="2.6" ry="2.2" fill="#660066" fill-opacity="0.5"/>
<rect x="373.02" y="115.0" width="8.2" height="6.8" rx="2.6" ry="2.2" fill="#660066" fill-opacity="0.5"/>
<rect x="381.74" y="115.0" width="8.2" height="6.8" rx="2.6" ry="2.2" fill="#660066" fill-opacity="0.5"/>
<rect x="390.46" y="115.0" width="8.2" height="6.8" rx="2.6" ry="2.2" fill="#660066" fill-opacity="0.5"/>
<rect x="399.18" y="115.0" width="8.2" height="6.8" rx="2.6" ry="2.2" fill="#660066" fill-opacity="0.5"/>
<rect x="407.90" y="115.0" width="8.2" height="6.8" rx="2.6" ry="2.2" fill="#660066" fill-opacity="0.5"/>
<rect x="416.62" y="115.0" width="8.2" height="6.8" rx="2.6" ry="2.2" fill="#660066" fill-opacity="0.5"/>
<rect x="425.34" y="115.0" width="8.2" height="6.8" rx="2.6" ry="2.2" fill="#660066" fill-opacity="0.5"/>
<rect x="434.06" y="115.0" width="8.2" height="6.8" rx="2.6" ry="2.2" fill="#660066" fill-opacity="0.5"/>
<rect x="442.78" y="115.0" width="8.2" height="6.8" rx="2.6" ry="2.2" fill="#660066" fill-opacity="0.5"/>
<rect x="451.50" y="115.0" width="8.2" height="6.8" rx="2.6" ry="2.2" fill="#660066" fill-opacity="0.5"/>
<rect x="460.22" y="115.0" width="8.2" height="6.8" rx="2.6" ry="2.2" fill="#660066" fill-opacity="0.5"/>
<rect x="468.94" y="115.0" width="8.2" height="6.8" rx="2.6" ry="2.2" fill="#660066" fill-opacity="0.5"/>
<rect x="477.66" y="115.0" width="8.2" height="6.8" rx="2.6" ry="2.2" fill="#660066" fill-opacity="0.5"/>
<rect x="486.38" y="115.0" width="8.2" height="6.8" rx="2.6" ry="2.2" fill="#660066" fill-opacity="0.5"/>
<rect x="495.10" y="115.0" width="8.2" height="6.8" rx="2.6" ry="2.2" fill="#660066" fill-opacity="0.5"/>
<rect x="503.82" y="115.0" width="8.2" height="6.8" rx="2.6" ry="2.2" fill="#660066" fill-opacity="0.5"/>
<rect x="512.54" y="115.0" width="8.2" height="6.8" rx="2.6" ry="2.2" fill="#660066" fill-opacity="0.5"/>
<rect x="521.26" y="115.0" width="8.2" height="6.8" rx="2.6" ry="2.2" fill="#660066" fill-opacity="0.5"/>
<rect x="529.98" y="115.0" width="8.2" height="6.8" rx="2.6" ry="2.2" fill="#660066" fill-opacity="0.5"/>
<rect x="538.70" y="115.0" width="8.2" height="6.8" rx="2.6" ry="2.2" fill="#660066" fill-opacity="0.5"/>
<rect x="547.42" y="115.0" width="8.2" height="6.8" rx="2.6" ry="2.2" fill="#660066" fill-opacity="0.5"/>
<rect x="556.14" y="115.0" width="8.2" height="6.8" rx="2.6" ry="2.2" fill="#660066" fill-opacity="0.5"/>
<rect x="564.86" y="115.0" width="8.2" height="6.8" rx="2.6" ry="2.2" fill="#660066" fill-opacity="0.5"/>
<circle cx="573.0" cy="118.4" r="3.1" fill="#660066"/>
<rect x="152.95000000000002" y="113" width="0.1" height="10" fill="none"/>
<rect x="140" y="112.9" width="14.050000000000011" height="11" fill="#fff"/>
<line x1="153.05" y1="124.9" x2="1020.9" y2="124.9" stroke="#000" stroke-width="2.1"/>
<rect x="154.05" y="111.9" width="865.85" height="391.00" fill="none" stroke="#000" stroke-width="2.1" stroke-linejoin="miter"/>
<line x1="144.1" y1="419.90" x2="154.05" y2="419.90" stroke="#000" stroke-width="2.1"/>
<line x1="144.1" y1="324.90" x2="154.05" y2="324.90" stroke="#000" stroke-width="2.1"/>
<line x1="144.1" y1="229.90" x2="154.05" y2="229.90" stroke="#000" stroke-width="2.1"/>
<line x1="144.1" y1="134.90" x2="154.05" y2="134.90" stroke="#000" stroke-width="2.1"/>
<line x1="161.91" y1="502.9" x2="161.91" y2="508.7" stroke="#000" stroke-width="1.7"/>
<line x1="196.97" y1="502.9" x2="196.97" y2="508.7" stroke="#000" stroke-width="1.7"/>
<line x1="230.90" y1="502.9" x2="230.90" y2="512.7" stroke="#000" stroke-width="2.2"/>
<line x1="265.96" y1="502.9" x2="265.96" y2="508.7" stroke="#000" stroke-width="1.7"/>
<line x1="301.02" y1="502.9" x2="301.02" y2="508.7" stroke="#000" stroke-width="1.7"/>
<line x1="334.95" y1="502.9" x2="334.95" y2="508.7" stroke="#000" stroke-width="1.7"/>
<line x1="370.01" y1="502.9" x2="370.01" y2="508.7" stroke="#000" stroke-width="1.7"/>
<line x1="403.94" y1="502.9" x2="403.94" y2="508.7" stroke="#000" stroke-width="1.7"/>
<line x1="439.00" y1="502.9" x2="439.00" y2="512.7" stroke="#000" stroke-width="2.2"/>
<line x1="474.06" y1="502.9" x2="474.06" y2="508.7" stroke="#000" stroke-width="1.7"/>
<line x1="505.73" y1="502.9" x2="505.73" y2="508.7" stroke="#000" stroke-width="1.7"/>
<line x1="540.79" y1="502.9" x2="540.79" y2="508.7" stroke="#000" stroke-width="1.7"/>
<line x1="574.72" y1="502.9" x2="574.72" y2="508.7" stroke="#000" stroke-width="1.7"/>
<line x1="609.78" y1="502.9" x2="609.78" y2="508.7" stroke="#000" stroke-width="1.7"/>
<line x1="643.72" y1="502.9" x2="643.72" y2="512.7" stroke="#000" stroke-width="2.2"/>
<line x1="678.78" y1="502.9" x2="678.78" y2="508.7" stroke="#000" stroke-width="1.7"/>
<line x1="713.84" y1="502.9" x2="713.84" y2="508.7" stroke="#000" stroke-width="1.7"/>
<line x1="747.77" y1="502.9" x2="747.77" y2="508.7" stroke="#000" stroke-width="1.7"/>
<line x1="782.83" y1="502.9" x2="782.83" y2="508.7" stroke="#000" stroke-width="1.7"/>
<line x1="816.76" y1="502.9" x2="816.76" y2="508.7" stroke="#000" stroke-width="1.7"/>
<line x1="851.82" y1="502.9" x2="851.82" y2="512.7" stroke="#000" stroke-width="2.2"/>
<line x1="886.88" y1="502.9" x2="886.88" y2="508.7" stroke="#000" stroke-width="1.7"/>
<line x1="918.55" y1="502.9" x2="918.55" y2="508.7" stroke="#000" stroke-width="1.7"/>
<line x1="953.61" y1="502.9" x2="953.61" y2="508.7" stroke="#000" stroke-width="1.7"/>
<line x1="987.54" y1="502.9" x2="987.54" y2="508.7" stroke="#000" stroke-width="1.7"/>
<rect x="67.5" y="598.5" width="949.9" height="43.4" rx="4.5" fill="#fff" stroke="#d3d3d3" stroke-width="2.8"/>
<circle cx="90.6" cy="618.4" r="4.1" fill="#b8f2f4"/>
<circle cx="327.4" cy="618.4" r="4.1" fill="#8080c0"/>
<circle cx="614.4" cy="618.4" r="4.1" fill="#660066"/>
<circle cx="900.3" cy="618.4" r="4.1" fill="#1a0019"/>
<text x="233.00" y="43.0" font-size="31.6" font-weight="bold" font-style="normal" textLength="167.00" lengthAdjust="spacingAndGlyphs">Maximum</text>
<text x="410.00" y="43.0" font-size="31.6" font-weight="bold" font-style="normal" textLength="138.00" lengthAdjust="spacingAndGlyphs">Number</text>
<text x="557.00" y="43.0" font-size="31.6" font-weight="bold" font-style="normal" textLength="35.00" lengthAdjust="spacingAndGlyphs">of</text>
<text x="603.00" y="43.0" font-size="31.6" font-weight="bold" font-style="normal" textLength="99.00" lengthAdjust="spacingAndGlyphs">NavIC</text>
<text x="713.00" y="43.0" font-size="31.6" font-weight="bold" font-style="normal" textLength="228.00" lengthAdjust="spacingAndGlyphs">Observations</text>
<text x="341.00" y="82.7" font-size="30.5" font-weight="normal" font-style="normal" textLength="154.00" lengthAdjust="spacingAndGlyphs">PADO00ITA</text>
<text x="504.00" y="82.7" font-size="30.5" font-weight="normal" font-style="normal" textLength="10.00" lengthAdjust="spacingAndGlyphs">-</text>
<text x="524.00" y="82.7" font-size="30.5" font-weight="normal" font-style="normal" textLength="159.00" lengthAdjust="spacingAndGlyphs">ROB-EUREF</text>
<text x="693.00" y="82.7" font-size="30.5" font-weight="normal" font-style="normal" textLength="60.00" lengthAdjust="spacingAndGlyphs">data</text>
<text x="765.00" y="82.7" font-size="30.5" font-weight="normal" font-style="normal" textLength="69.00" lengthAdjust="spacingAndGlyphs">node</text>
<text x="66.50" y="675.2" font-size="20.8" font-weight="normal" font-style="italic" textLength="30.50" lengthAdjust="spacingAndGlyphs">Sat</text>
<text x="105.00" y="675.2" font-size="20.8" font-weight="normal" font-style="italic" textLength="33.00" lengthAdjust="spacingAndGlyphs">Apr</text>
<text x="145.00" y="675.2" font-size="20.8" font-weight="normal" font-style="italic" textLength="23.00" lengthAdjust="spacingAndGlyphs">25</text>
<text x="175.00" y="675.2" font-size="20.8" font-weight="normal" font-style="italic" textLength="86.00" lengthAdjust="spacingAndGlyphs">13:31:42</text>
<text x="268.50" y="675.2" font-size="20.8" font-weight="normal" font-style="italic" textLength="49.50" lengthAdjust="spacingAndGlyphs">2026</text>
<text x="880.00" y="674.8" font-size="20.8" font-weight="normal" font-style="italic" textLength="131.00" lengthAdjust="spacingAndGlyphs">©GNSS@ROB</text>
<text x="0" y="0" font-size="25.5" font-weight="normal" font-style="normal" textLength="58.00" lengthAdjust="spacingAndGlyphs" transform="translate(37.9,412.00) rotate(-90)">Max.</text>
<text x="0" y="0" font-size="25.5" font-weight="normal" font-style="normal" textLength="31.00" lengthAdjust="spacingAndGlyphs" transform="translate(37.9,345.00) rotate(-90)">nr.</text>
<text x="0" y="0" font-size="25.5" font-weight="normal" font-style="normal" textLength="24.00" lengthAdjust="spacingAndGlyphs" transform="translate(37.9,305.00) rotate(-90)">of</text>
<text x="0" y="0" font-size="25.5" font-weight="normal" font-style="normal" textLength="56.00" lengthAdjust="spacingAndGlyphs" transform="translate(37.9,273.00) rotate(-90)">Obs.</text>
<text x="517.00" y="576.9" font-size="25.5" font-weight="normal" font-style="normal" textLength="140.00" lengthAdjust="spacingAndGlyphs">Month/Year</text>
<text x="104.00" y="626.1" font-size="25.9" font-weight="normal" font-style="normal" textLength="44.00" lengthAdjust="spacingAndGlyphs">IRN</text>
<text x="342.00" y="626.1" font-size="25.9" font-weight="normal" font-style="normal" textLength="92.00" lengthAdjust="spacingAndGlyphs">RINEX2</text>
<text x="628.00" y="626.1" font-size="25.9" font-weight="normal" font-style="normal" textLength="92.00" lengthAdjust="spacingAndGlyphs">RINEX3</text>
<text x="914.00" y="626.1" font-size="25.9" font-weight="normal" font-style="normal" textLength="92.00" lengthAdjust="spacingAndGlyphs">RINEX4</text>
<text x="180.00" y="541.9" font-size="25.5" font-weight="normal" font-style="normal" textLength="101.50" lengthAdjust="spacingAndGlyphs">07/2024</text>
<text x="388.00" y="541.9" font-size="25.5" font-weight="normal" font-style="normal" textLength="102.00" lengthAdjust="spacingAndGlyphs">01/2025</text>
<text x="593.00" y="541.9" font-size="25.5" font-weight="normal" font-style="normal" textLength="102.00" lengthAdjust="spacingAndGlyphs">07/2025</text>
<text x="801.00" y="541.9" font-size="25.5" font-weight="normal" font-style="normal" textLength="102.00" lengthAdjust="spacingAndGlyphs">01/2026</text>
<text x="55.00" y="145.0" font-size="25.5" font-weight="normal" font-style="normal" textLength="78.00" lengthAdjust="spacingAndGlyphs">40000</text>
<text x="55.00" y="240.0" font-size="25.5" font-weight="normal" font-style="normal" textLength="78.00" lengthAdjust="spacingAndGlyphs">30000</text>
<text x="55.00" y="335.0" font-size="25.5" font-weight="normal" font-style="normal" textLength="78.00" lengthAdjust="spacingAndGlyphs">20000</text>
<text x="54.00" y="430.0" font-size="25.5" font-weight="normal" font-style="normal" textLength="79.00" lengthAdjust="spacingAndGlyphs">10000</text>
<text x="0" y="0" font-size="23.5" textLength="39" lengthAdjust="spacingAndGlyphs" transform="translate(997.2,136.5) rotate(90)">Now</text>
</svg></body></html>
